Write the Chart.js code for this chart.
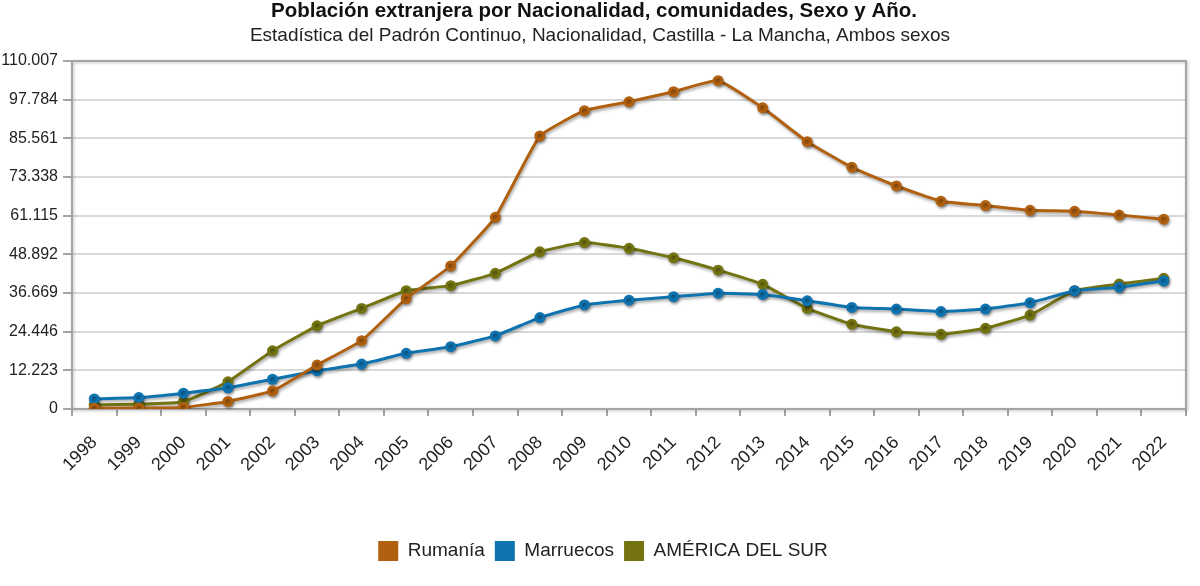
<!DOCTYPE html>
<html>
<head>
<meta charset="utf-8">
<script src="https://cdn.jsdelivr.net/npm/chart.js@4.4.1/dist/chart.umd.min.js"></script>
<style>
html,body{margin:0;padding:0;background:#fff;}
#wrap{width:1200px;height:586px;position:relative;}
</style>
</head>
<body>
<div id="wrap"><canvas id="c" width="1200" height="586"></canvas></div>
<script>
const titleText = 'Población extranjera por Nacionalidad, comunidades, Sexo y Año.';
const subtitleText = 'Estadística del Padrón Continuo, Nacionalidad, Castilla - La Mancha, Ambos sexos';
const years = ['1998','1999','2000','2001','2002','2003','2004','2005','2006','2007','2008','2009','2010','2011','2012','2013','2014','2015','2016','2017','2018','2019','2020','2021','2022'];
const rumania = [200,300,500,2400,5700,13900,21600,34900,45200,60600,86300,94300,97100,100300,103800,95200,84500,76400,70500,65700,64300,62800,62500,61300,60000];
const marruecos = [3200,3600,5000,6700,9400,12100,14200,17600,19700,23100,28900,32900,34400,35500,36600,36200,34200,32100,31600,30800,31600,33600,37400,38500,40500];
const americaSur = [1300,1500,2300,8600,18400,26300,31800,37400,39000,42900,49700,52600,50800,47800,43900,39400,31800,26800,24400,23600,25500,29700,37400,39500,41300];
const seriesNames = ['Rumanía','Marruecos','AMÉRICA DEL SUR'];
const seriesColors = ['#b0600f','#0f73b0','#737312'];
const yMax = 110007;
const yStep = 12223;

function fmt(v){
  return String(Math.round(v)).replace(/\B(?=(\d{3})+(?!\d))/g, '.');
}

const FONT = "'Liberation Sans', Arial, sans-serif";

const decor = {
  id: 'decor',
  afterLayout(chart){
    if (chart.legend) { chart.legend.left += 10; chart.legend.right += 10; }
  },
  beforeDatasetsDraw(chart){
    const {ctx, chartArea:a} = chart;
    ctx.save();
    ctx.shadowColor = 'rgba(0,0,0,0.25)';
    ctx.shadowBlur = 3;
    ctx.shadowOffsetX = 1;
    ctx.shadowOffsetY = 1;
    ctx.strokeStyle = '#a5a5a5';
    ctx.lineWidth = 2;
    ctx.strokeRect(a.left, a.top, a.right - a.left, a.bottom - a.top);
    ctx.restore();
    ctx.save();
    ctx.shadowColor = 'rgba(0,0,0,0.35)';
    ctx.shadowBlur = 3;
    ctx.shadowOffsetX = 1;
    ctx.shadowOffsetY = 2;
  },
  afterDatasetsDraw(chart){
    chart.ctx.restore();
  },
  afterDraw(chart){
    const ctx = chart.ctx;
    ctx.save();
    ctx.fillStyle = '#111';
    ctx.textAlign = 'center';
    ctx.textBaseline = 'middle';
    ctx.font = "bold 20.5px " + FONT;
    ctx.fillText(titleText, 594, 11);
    ctx.fillStyle = '#222';
    ctx.font = "19px " + FONT;
    ctx.fillText(subtitleText, 600, 36);
    ctx.restore();
  }
};

const mk = (label, data, color) => ({
  label, data,
  borderColor: color,
  backgroundColor: color,
  pointBackgroundColor: color,
  pointBorderColor: color,
  borderWidth: 3,
  pointRadius: 4,
  pointHoverRadius: 4,
  tension: 0.12,
  fill: false
});

new Chart(document.getElementById('c'), {
  type: 'line',
  data: {
    labels: years,
    datasets: [
      mk(seriesNames[0], rumania, seriesColors[0]),
      mk(seriesNames[1], marruecos, seriesColors[1]),
      mk(seriesNames[2], americaSur, seriesColors[2])
    ]
  },
  options: {
    responsive: false,
    animation: false,
    devicePixelRatio: 1,
    layout: { padding: { top: 61, right: 14, bottom: 15, left: 0 } },
    plugins: {
      title: { display: false },
      tooltip: { enabled: false },
      legend: {
        position: 'bottom',
        labels: {
          boxWidth: 20,
          boxHeight: 20,
          padding: 10,
          color: '#222',
          font: { family: FONT, size: 19 },
          generateLabels(chart){
            const items = Chart.defaults.plugins.legend.labels.generateLabels(chart);
            items.forEach(it => { it.lineWidth = 0; it.strokeStyle = 'rgba(0,0,0,0)'; });
            return items;
          }
        }
      }
    },
    scales: {
      x: {
        offset: true,
        grid: { offset: true, drawOnChartArea: false, drawTicks: true, tickLength: 7, tickColor: '#a5a5a5', lineWidth: 2 },
        border: { display: false },
        ticks: {
          minRotation: 45, maxRotation: 45, autoSkip: false,
          padding: 16,
          color: '#222',
          font: { family: FONT, size: 18 }
        },
        afterFit(s){ s.height = 122; }
      },
      y: {
        min: 0, max: yMax,
        grid: { color: '#d9d9d9', lineWidth: 2, tickLength: 9, tickColor: '#a5a5a5' },
        border: { display: false },
        ticks: {
          stepSize: yStep,
          padding: 5,
          color: '#222',
          font: { family: FONT, size: 16 },
          callback: (v) => fmt(v)
        },
        afterBuildTicks(s){
          const t = [];
          for (let i = 0; i <= 9; i++) t.push({ value: i * yStep });
          s.ticks = t;
        },
        afterFit(s){ s.width = 72; }
      }
    }
  },
  plugins: [decor]
});
</script>
</body>
</html>
